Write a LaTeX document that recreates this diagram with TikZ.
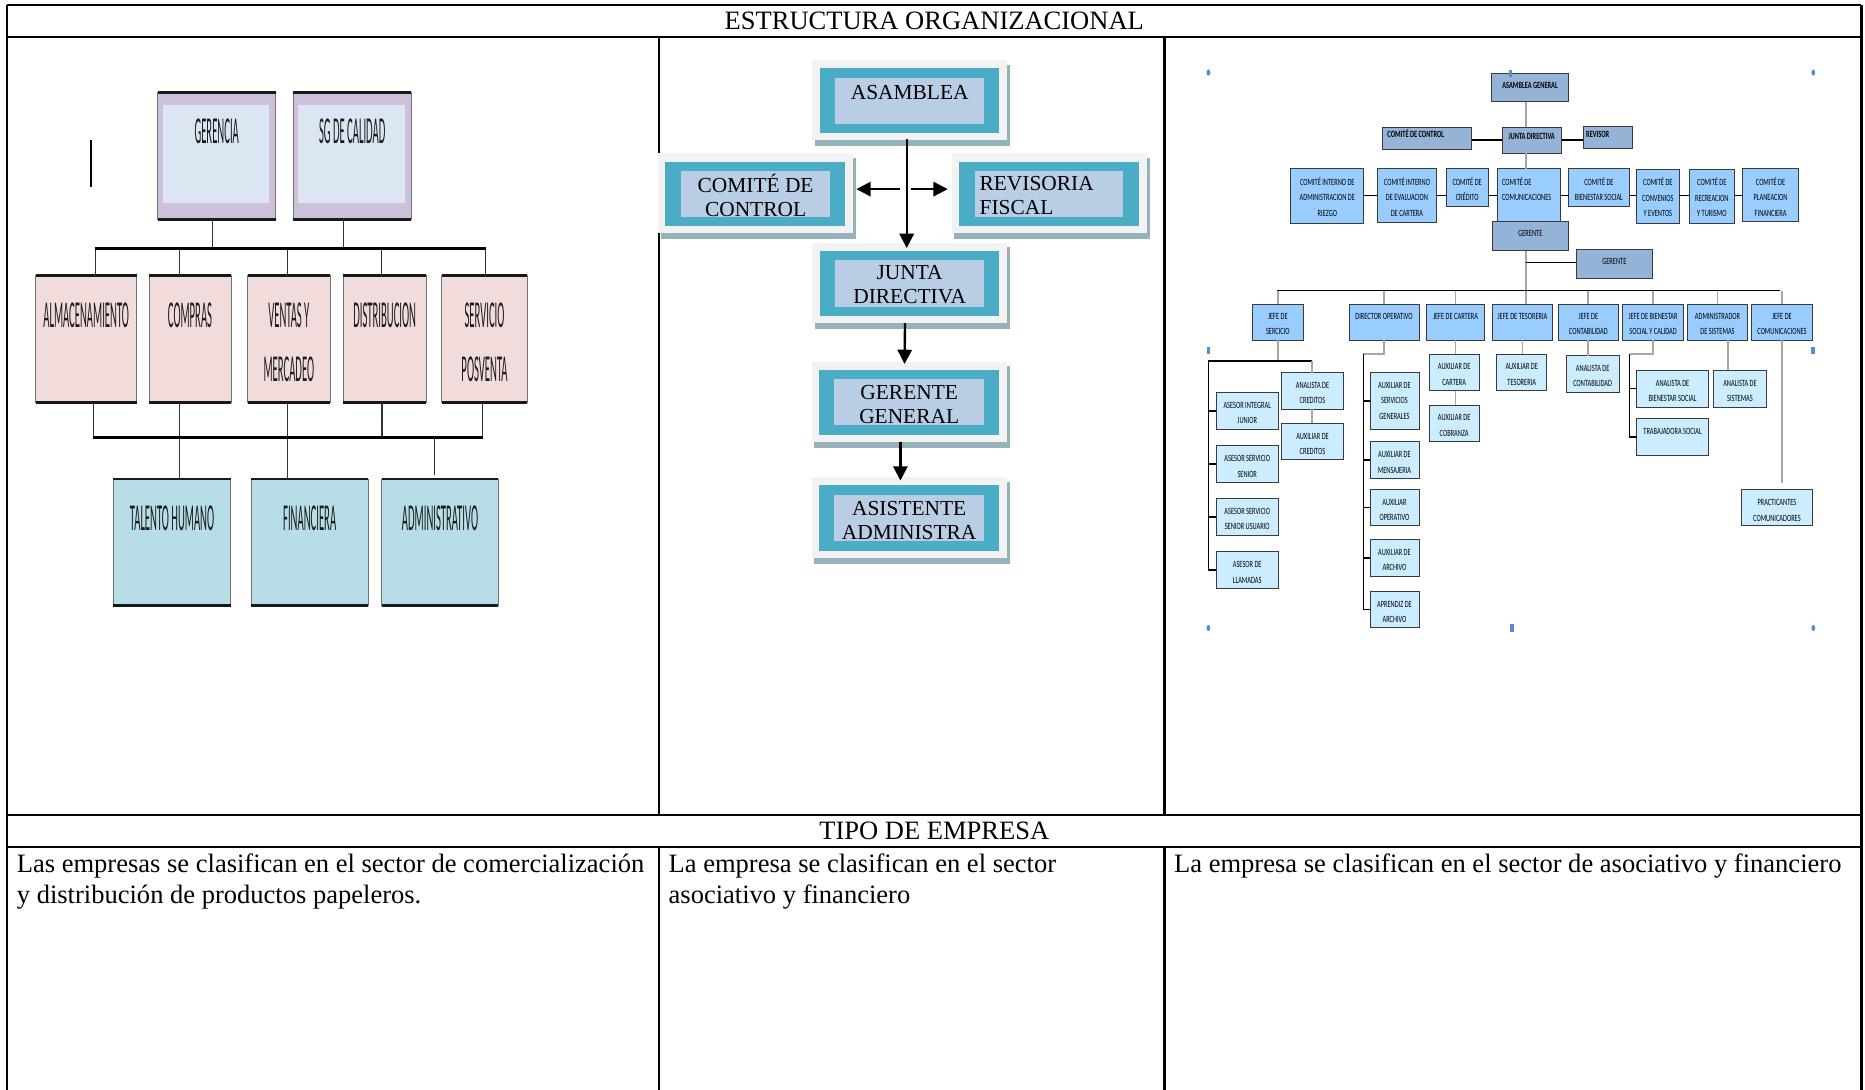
\documentclass[tikz,border=0pt]{standalone}
\usepackage{fontspec}
\setmainfont{Liberation Serif}
\newfontfamily\pone[FakeStretch=0.28]{Carlito}
\newfontfamily\pthree[FakeStretch=0.67]{Carlito}
\usetikzlibrary{arrows.meta,calc}

\definecolor{lav}{HTML}{CCC0DA}
\definecolor{pale}{HTML}{DCE6F2}
\definecolor{pinkb}{HTML}{F2DCDB}
\definecolor{cyanb}{HTML}{B7DEE8}
\definecolor{frameg}{HTML}{F2F2F2}
\definecolor{shad}{HTML}{95B1BA}
\definecolor{tealb}{HTML}{4BACC6}
\definecolor{innerb}{HTML}{B9CDE5}
\definecolor{dkb}{HTML}{95B3D7}
\definecolor{mdb}{HTML}{99CCFF}
\definecolor{ltb}{HTML}{CCECFF}
\definecolor{bord}{HTML}{3A3A3A}
\definecolor{glin}{HTML}{A6A6A6}
\definecolor{handle}{HTML}{5B8BD4}

% panel 1 boxes: name, x1, y1, x2, y2, fill, text
\newcommand\ponebox[7]{%
  \node[ponebx, fill=#6, minimum width={#4-#2}, minimum height={#5-#3}, anchor=north west] (#1) at (#2,#3) {};
  \draw[ponebar] (#1.north west) -- (#1.north east);
  \draw[ponebar] (#1.south west) -- (#1.south east);
  \node[ponetxt] (#1-t) at ($(#1.north)+(0,11.4)$) {\strut #7};
}
% panel 1 top boxes: name, x1, y1, x2, y2, text
\newcommand\ponetop[6]{%
  \node[ponebx, fill=lav, minimum width={#4-#2}, minimum height={#5-#3}, anchor=north west] (#1) at (#2,#3) {};
  \fill[pale] ($(#1.north west)+(4.2,10.7)$) rectangle ($(#1.south east)+(-5.4,-13.4)$);
  \draw[ponebar] (#1.north west) -- (#1.north east);
  \draw[ponebar] (#1.south west) -- (#1.south east);
  \node[ponetxt] (#1-t) at ($(#1.north)+(0,10.8)$) {\strut #6};
}
% panel 2 boxes: name, x1, y1, x2, y2
\newcommand\ptwobox[5]{%
  \fill[shad] (#2+2,#3+4) rectangle (#4+2.5,#5+5);
  \node[ptwofr, minimum width={#4-#2}, minimum height={#5-#3}, anchor=north west] (#1) at (#2,#3) {};
  \fill[tealb] ($(#1.north west)+(6,7)$) rectangle ($(#1.south east)+(-6.8,-6)$);
  \fill[innerb] ($(#1.north west)+(19,14.8)$) rectangle ($(#1.south east)+(-19.5,-13.8)$);
}
% panel 3 boxes: name, x1, y1, x2, y2, style, cap-centre offset, text
\newcommand\pthreebox[8]{%
  \node[pthreebx, #6, minimum width={#4-#2}, minimum height={#5-#3}, anchor=north west] (#1) at (#2,#3) {};
  \node[pthreetxt] (#1-t) at ($(#1.north)+(0,#7-6.45)$) {\strut #8};
}

\begin{document}
\begin{tikzpicture}[x=1pt,y=-1pt,
  tbl/.style={line width=2pt, black},
  celltxt/.style={font=\fontsize{22.3}{26}\selectfont, align=left, inner sep=0pt},
  ttltxt/.style={font=\fontsize{22.3}{26}\selectfont, inner sep=0pt},
  ponebx/.style={draw=black!55, line width=0.6pt, inner sep=0pt, outer sep=0pt},
  ponebar/.style={line width=2.4pt, black!90, line cap=butt},
  ponetxt/.style={font=\pone\fontsize{32}{45.6}\selectfont, align=center, anchor=north, inner sep=0pt, text=black!90},
  pline/.style={line width=1pt, black!80},
  pbus/.style={line width=2.2pt, black},
  ptwofr/.style={fill=frameg, inner sep=0pt, outer sep=0pt},
  ptwotxt/.style={font=\fontsize{18}{20.3}\selectfont, align=center, anchor=north, inner sep=0pt},
  arr/.style={line width=2pt, -{Triangle[length=12pt,width=12pt]}},
  pthreebx/.style={draw=bord, line width=0.8pt, inner sep=0pt, outer sep=0pt},
  fdk/.style={fill=dkb}, fmd/.style={fill=mdb}, flt/.style={fill=ltb},
  pthreetxt/.style={font=\pthree\fontsize{8}{12.9}\selectfont, align=center, anchor=north, inner sep=0pt},
  pthreebold/.style={font=\pthree\bfseries\fontsize{8}{12.9}\selectfont},
  gln/.style={line width=1.5pt, glin},
  bln/.style={line width=1.1pt, black},
]
\useasboundingbox (0,0) rectangle (1568,916);
\fill[white] (0,0) rectangle (1568,916);

% ---------------- table ----------------
\draw[tbl] (6,4) -- (1565,4);
\draw[tbl] (6,31) -- (1565,31);
\draw[tbl] (6,685) -- (1565,685);
\draw[tbl] (6,712) -- (1565,712);
\draw[tbl] (6,4) -- (6,925);
\draw[tbl] (1565,4) -- (1565,925);
\draw[tbl] (554,31) -- (554,685);
\draw[tbl] (554,712) -- (554,925);
\draw[tbl] (979,31) -- (979,685);
\draw[tbl] (979,712) -- (979,925);

\node[ttltxt] (title) at (785.5,17.5) {ESTRUCTURA ORGANIZACIONAL};
\node[ttltxt] (tipo) at (785.5,698.5) {TIPO DE EMPRESA};
\node[celltxt, anchor=north west] (cell1) at (14,714.8) {\strut Las empresas se clasifican en el sector de comercialización\\y distribución de productos papeleros.};
\node[celltxt, anchor=north west] (cell2) at (562,714.8) {\strut La empresa se clasifican en el sector\\asociativo y financiero};
\node[celltxt, anchor=north west] (cell3) at (987,714.8) {\strut La empresa se clasifican en el sector de asociativo y financiero};

% ---------------- panel 1 ----------------
\draw[line width=1.5pt] (76.5,117.7) -- (76.5,157.5);
\ponetop{gerc}{132.6}{77.6}{231.8}{184.4}{GERENCIA}
\ponetop{sgc}{246.6}{77.6}{345.6}{184.4}{SG DE CALIDAD}
\ponebox{alm}{30}{231.8}{114.9}{338.6}{pinkb}{ALMACENAMIENTO}
\ponebox{comp}{125.3}{231.8}{194.2}{338.6}{pinkb}{COMPRAS}
\ponebox{vent}{208.2}{231.8}{277.5}{338.6}{pinkb}{VENTAS Y\\MERCADEO}
\ponebox{dist}{288.7}{231.8}{358.2}{338.6}{pinkb}{DISTRIBUCION}
\ponebox{serv}{371.3}{231.8}{443.4}{338.6}{pinkb}{SERVICIO\\POSVENTA}
\ponebox{th}{95.3}{402.7}{194}{509.2}{cyanb}{TALENTO HUMANO}
\ponebox{fin}{211}{402.7}{309.7}{509.2}{cyanb}{FINANCIERA}
\ponebox{admone}{320.9}{402.7}{419}{509.2}{cyanb}{ADMINISTRATIVO}

\coordinate (u1) at (178.5,208.8);
\coordinate (u2) at (288.7,208.8);
\coordinate (d1) at (80.2,208.8);
\coordinate (d2) at (150.8,208.8);
\coordinate (d3) at (241.6,208.8);
\coordinate (d4) at (320.9,208.8);
\coordinate (d5) at (408.3,208.8);
\draw[pline] (u1 |- gerc.south) -- (u1);
\draw[pline] (u2 |- sgc.south) -- (u2);
\foreach \c/\n in {d1/alm,d2/comp,d3/vent,d4/dist,d5/serv}
  \draw[pline] (\c) -- (\c |- \n.north);
\draw[pbus] (d1) -- (d5);

\coordinate (e1) at (78.5,368);
\coordinate (e2) at (150.8,368);
\coordinate (e3) at (241.6,368);
\coordinate (e4) at (321.2,368);
\coordinate (e5) at (405.8,368);
\coordinate (e6) at (365.2,368);
\foreach \c/\n in {e1/alm,e2/comp,e3/vent,e4/dist,e5/serv}
  \draw[pline] (\c |- \n.south) -- (\c);
\draw[pline] (e2) -- (e2 |- th.north);
\draw[pline] (e3) -- (e3 |- fin.north);
\draw[pline] (e6) -- ($(e6 |- admone.north)+(0,-3.3)$);
\draw[pbus] (e1) -- (e5);

% ---------------- panel 2 ----------------
\ptwobox{asam}{683}{50.4}{846.6}{118}
\ptwobox{com}{553.5}{129}{717}{196}
\ptwobox{rev}{800.4}{129}{964}{196}
\ptwobox{junta}{683}{204}{846.6}{271.6}
\ptwobox{gg}{682.4}{304}{846.4}{371.3}
\ptwobox{asis}{682.4}{401}{846.4}{469}
\node[ptwotxt] (asam-t) at ($(asam.north)+(0,18.5)$) {\strut ASAMBLEA};
\node[ptwotxt] (com-t) at ($(com.north)+(0,16.9)$) {\strut COMITÉ DE\\CONTROL};
\node[ptwotxt, anchor=north west, align=left] (rev-t) at ($(rev.north west)+(23,16.9)$) {\strut REVISORIA\\FISCAL};
\node[ptwotxt] (junta-t) at ($(junta.north)+(0,16.2)$) {\strut JUNTA\\DIRECTIVA};
\node[ptwotxt] (gg-t) at ($(gg.north)+(0,17.1)$) {\strut GERENTE\\GENERAL};
\node[ptwotxt] (asis-t) at ($(asis.north)+(0,18.2)$) {\strut ASISTENTE\\ADMINISTRA};

\coordinate (hub) at (762,159);
\draw[arr] ($(asam.south)+(-2.5,-1)$) -- ($(junta.north)+(-2.5,4.5)$);
\draw[arr] ($(hub)+(-5,0)$) -- ($(hub -| com.east)+(3,0)$);
\draw[arr] ($(hub)+(4,0)$) -- ($(hub -| rev.west)+(-3.6,0)$);
\draw[arr] ($(junta.south)+(-3.9,0)$) -- ($(gg.north)+(-3.9,2)$);
\draw[arr] ($(gg.south)+(-7.4,0)$) -- ($(asis.north)+(-7.4,3)$);

% ---------------- panel 3 ----------------
\coordinate (trunkx) at (1283,0);
\coordinate (crow) at (0,164.5);
\coordinate (busL) at (1073.9,244.4);
\coordinate (busR) at (1496.6,244.4);
\coordinate (gtwob) at (1283,220.6);
\coordinate (jsL) at (1015.9,303.5);
\coordinate (jsR) at (1102.8,303.5);
\coordinate (dopL) at (1146.2,297.9);
\coordinate (jbL) at (1370,297.6);
\coordinate (sysx) at (1452.5,0);

% trunk and branches drawn first (boxes cover them)
\draw[gln] (1283,73) -- (1283,244.4);
\draw[bln] (gtwob) -- (1325,220.6);
\draw[bln] (1237.4,117.7) -- (1263,117.7);
\draw[bln] (1312.5,117.7) -- (1331.4,117.7);

\pthreebox{ag}{1254.3}{61.5}{1318.4}{85.5}{fdk}{10}{\bfseries ASAMBLEA GENERAL}
\node[pthreebx, fdk, minimum width=75.1, minimum height=18.5, anchor=north west] (cc) at (1162.3,107.5) {};
\node[pthreetxt, anchor=north west, align=left] (cc-t) at ($(cc.north west)+(4,5.7-6.45)$) {\strut\bfseries COMITÉ DE CONTROL};
\pthreebox{jd}{1263}{107.5}{1312.5}{129}{fdk}{6.8}{\bfseries JUNTA DIRECTIVA}
\node[pthreebx, fdk, minimum width=41.1, minimum height=18.4, anchor=north west] (rev3) at (1331.4,106.6) {};
\node[pthreetxt, anchor=north west, align=left] (rev3-t) at ($(rev3.north west)+(2,6.1-6.45)$) {\strut\bfseries REVISOR};

\pthreebox{cone}{1085.2}{142}{1146.7}{187.8}{fmd}{11.3}{COMITÉ INTERNO DE\\ADMINISTRACION DE\\RIEZGO}
\pthreebox{ctwo}{1158.1}{141.5}{1207.7}{187}{fmd}{11.8}{COMITÉ INTERNO\\DE EVALUACION\\DE CARTERA}
\pthreebox{cthree}{1215.8}{142}{1251.2}{173.8}{fmd}{11.3}{COMITÉ DE\\CRÉDITO}
\node[pthreebx, fmd, minimum width=53.2, minimum height=46, anchor=north west] (cfour) at (1258.7,142) {};
\node[pthreetxt, anchor=north west, align=left] (cfour-t) at ($(cfour.north west)+(4,11.3-6.45)$) {\strut COMITÉ DE\\COMUNICACIONES};
\pthreebox{cfive}{1318.8}{142}{1369.8}{173.8}{fmd}{11.3}{COMITÉ DE\\BIENESTAR SOCIAL}
\pthreebox{csix}{1375.8}{142.5}{1411.9}{187.8}{fmd}{11}{COMITÉ DE\\CONVENIOS\\Y EVENTOS}
\pthreebox{cseven}{1420}{142.5}{1458.4}{187.8}{fmd}{11}{COMITÉ DE\\RECREACION\\Y TURISMO}
\pthreebox{ceight}{1465}{142}{1512.2}{186.3}{fmd}{11.3}{COMITÉ DE\\PLANEACION\\FINANCIERA}
\foreach \a/\b in {cone/ctwo,ctwo/cthree,cthree/cfour,cfour/cfive,cfive/csix,csix/cseven,cseven/ceight}
  \draw[bln] (\a.east |- crow) -- (\b.west |- crow);
\draw[gln] (jd.south -| trunkx) -- (cfour.north -| trunkx);

\pthreebox{ger}{1254.7}{186.4}{1318.6}{210.2}{fdk}{9.8}{GERENTE}
\pthreebox{gertwo}{1325}{209.6}{1389.5}{234}{fdk}{10.4}{GERENTE}

% level 2
\draw[bln] (busL) -- (busR);
\pthreebox{js}{1052.9}{255.6}{1095.8}{285.9}{fmd}{10.3}{JEFE DE\\SERCICIO}
\pthreebox{dop}{1134.2}{255.6}{1193}{285.9}{fmd}{10.3}{DIRECTOR OPERATIVO}
\pthreebox{jc}{1199.5}{255.6}{1248}{285.9}{fmd}{10.3}{JEFE DE CARTERA}
\pthreebox{jt}{1254.7}{255.6}{1305.4}{285.9}{fmd}{10.3}{JEFE DE TESORERIA}
\pthreebox{jco}{1310.2}{255.6}{1360.6}{285.9}{fmd}{10.3}{JEFE DE\\CONTABILIDAD}
\pthreebox{jb}{1364.3}{255.6}{1415.3}{285.9}{fmd}{10.3}{JEFE DE BIENESTAR\\SOCIAL Y CALIDAD}
\pthreebox{adm}{1418.6}{255.6}{1469.4}{285.9}{fmd}{10.3}{ADMINISTRADOR\\DE SISTEMAS}
\pthreebox{jcom}{1472.7}{255.6}{1523.7}{285.9}{fmd}{10.3}{JEFE DE\\COMUNICACIONES}
\foreach \n in {js,dop,jc,jco,jb,adm,jcom}
  \draw[gln] (\n.north |- busL) -- (\n.north);
\draw[gln] (busL -| trunkx) -- (jt.north -| trunkx);

% level 3
\pthreebox{aone}{1022.4}{329.9}{1074.8}{361}{flt}{10.8}{ASESOR INTEGRAL\\JUNIOR}
\pthreebox{atwo}{1022.4}{374.7}{1074.8}{405.5}{flt}{10.8}{ASESOR SERVICIO\\SENIOR}
\pthreebox{athree}{1022.4}{419}{1074.8}{450.4}{flt}{10.8}{ASESOR SERVICIO\\SENIOR USUARIO}
\pthreebox{afour}{1022.4}{463.8}{1074.8}{494.7}{flt}{10.8}{ASESOR DE\\LLAMADAS}
\pthreebox{anc}{1077.6}{313.3}{1129.4}{344.2}{flt}{10.6}{ANALISTA DE\\CREDITOS}
\pthreebox{anx}{1077.6}{355.9}{1129.4}{386.7}{flt}{10.6}{AUXILIAR DE\\CREDITOS}
\pthreebox{oone}{1151.8}{313.3}{1193}{361}{flt}{10.4}{AUXILIAR DE\\SERVICIOS\\GENERALES}
\pthreebox{otwo}{1151.8}{371.3}{1193}{402.2}{flt}{10.8}{AUXILIAR DE\\MENSAJERIA}
\pthreebox{othree}{1151.8}{411.4}{1193}{442.2}{flt}{10.8}{AUXILIAR\\OPERATIVO}
\pthreebox{ofour}{1151.8}{453.4}{1193}{484.9}{flt}{10.8}{AUXILIAR DE\\ARCHIVO}
\pthreebox{ofive}{1151.8}{496.9}{1193}{527.7}{flt}{10.8}{APRENDIZ DE\\ARCHIVO}
\pthreebox{axc}{1201.7}{297.6}{1243.5}{328.5}{flt}{10.6}{AUXILIAR DE\\CARTERA}
\pthreebox{axb}{1201.7}{340.5}{1243.5}{371.3}{flt}{10.6}{AUXILIAR DE\\COBRANZA}
\pthreebox{axt}{1258.4}{297.6}{1300.4}{328.5}{flt}{10.6}{AUXILIAR DE\\TESORERIA}
\pthreebox{anco}{1316.6}{299}{1361.5}{329.9}{flt}{10.6}{ANALISTA DE\\CONTABILIDAD}
\pthreebox{anb}{1376.1}{311.1}{1436.3}{342.5}{flt}{10.8}{ANALISTA DE\\BIENESTAR SOCIAL}
\pthreebox{tra}{1376.1}{351.7}{1436.3}{383.1}{flt}{11.2}{TRABAJADORA SOCIAL}
\pthreebox{ans}{1440.5}{311.1}{1485.3}{342.5}{flt}{10.8}{ANALISTA DE\\SISTEMAS}
\pthreebox{pra}{1463.8}{411.4}{1524.1}{442.2}{flt}{11.2}{PRACTICANTES\\COMUNICADORES}

% subtree connectors
\draw[gln] (js.south) -- (js.south |- jsL);
\draw[bln] (jsL) -- (jsR);
\draw[gln] (jsR) -- (jsR |- anc.north);
\draw[gln] (anc.south -| jsR) -- (anx.north -| jsR);
\draw[bln] (jsL) -- (jsL |- afour.west) -- (afour.west);
\foreach \n in {aone,atwo,athree}
  \draw[bln] (jsL |- \n.west) -- (\n.west);

\draw[gln] (dop.south) |- (dopL);
\draw[bln] (dopL) -- (dopL |- ofive.west) -- (ofive.west);
\foreach \n in {oone,otwo,othree,ofour}
  \draw[bln] (dopL |- \n.west) -- (\n.west);

\draw[gln] (jc.south) -- (jc.south |- axc.north);
\draw[gln] (axc.south -| jc.south) -- (axb.north -| jc.south);
\draw[gln] (jt.south) -- (jt.south |- axt.north);
\draw[gln] (jco.south) -- (jco.south |- anco.north);
\draw[gln] (jb.south) |- (jbL);
\draw[bln] (jbL) -- (jbL |- tra.west) -- (tra.west);
\draw[bln] (jbL |- anb.west) -- (anb.west);
\draw[gln] (adm.south -| sysx) -- (ans.north -| sysx);
\draw[gln] (jcom.south) -- ($(jcom.south |- pra.north)+(0,-5)$);

% selection handles of the embedded picture
\fill[handle] (1016,61) ellipse (1.6pt and 2.6pt);
\fill[handle] (1524.5,61) ellipse (1.6pt and 2.6pt);
\fill[handle] (1016,528) ellipse (1.6pt and 2.6pt);
\fill[handle] (1524.5,528) ellipse (1.6pt and 2.6pt);
\fill[handle] (1268.6,58.6) rectangle (1271.6,64.6);
\fill[handle] (1014.5,292) rectangle (1017.5,298);
\fill[handle] (1522.7,292) rectangle (1525.7,298);
\fill[handle] (1269.5,525) rectangle (1272.5,531);
\end{tikzpicture}
\end{document}
